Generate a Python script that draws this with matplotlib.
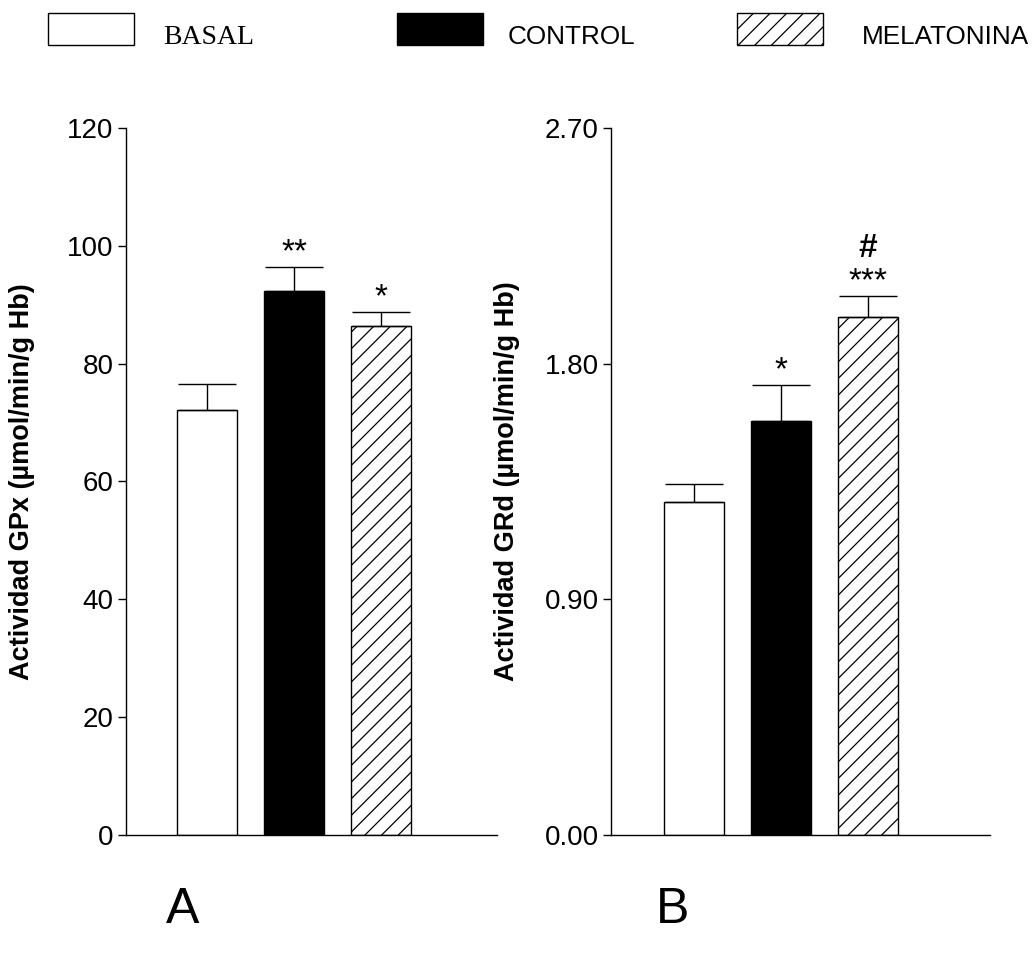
import numpy as np
import matplotlib.pyplot as plt
from matplotlib.patches import Rectangle

plt.rcParams['font.family'] = ['Liberation Sans', 'DejaVu Sans']
plt.rcParams['hatch.linewidth'] = 0.9

groups = ['BASAL', 'CONTROL', 'MELATONINA']

# panel A: GPx
gpx_mean = [72.1, 92.3, 86.4]
gpx_err = [4.5, 4.1, 2.4]
gpx_stars = ['', '**', '*']
gpx_ticks = [0, 20, 40, 60, 80, 100, 120]

# panel B: GRd
grd_mean = [1.27, 1.58, 1.98]
grd_err = [0.07, 0.14, 0.08]
grd_stars = ['', '*', '***']
grd_hash = ['', '', '#']
grd_ticks = [0.00, 0.90, 1.80, 2.70]

faces = ['white', 'black', 'white']
hatches = ['', '', '//']


def draw_panel(ax, means, errs, stars, ticks, fmt, ylabel, xlim):
    x = np.arange(len(means))
    yerr = [np.zeros(len(errs)), errs]
    ax.bar(x, means, width=0.69, color=faces, edgecolor='black', linewidth=1.0,
           hatch=hatches, yerr=yerr,
           error_kw=dict(ecolor='black', elinewidth=1.0, capsize=21, capthick=1.0))
    for xi, m, e, s in zip(x, means, errs, stars):
        if s:
            ax.annotate(s, (xi, m + e), xytext=(0, 4), textcoords='offset points',
                        ha='center', va='baseline', fontsize=24)
    ax.set_xlim(*xlim)
    ax.set_ylim(ticks[0], ticks[-1])
    ax.set_yticks(ticks)
    ax.set_yticklabels([fmt.format(t) for t in ticks], fontsize=20)
    ax.set_xticks([])
    ax.spines['top'].set_visible(False)
    ax.spines['right'].set_visible(False)
    ax.spines['left'].set_linewidth(1.0)
    ax.spines['bottom'].set_linewidth(1.0)
    ax.tick_params(axis='y', direction='out', length=6, width=1.0, pad=3)
    ax.set_ylabel(ylabel, fontsize=19.5, fontweight='bold')


fig = plt.figure(figsize=(10.32, 9.58), dpi=100)
axA = fig.add_axes([0.1221, 0.1284, 0.3595, 0.738])
axB = fig.add_axes([0.5921, 0.1284, 0.3672, 0.738])

draw_panel(axA, gpx_mean, gpx_err, gpx_stars, gpx_ticks, '{:.0f}',
           'Actividad GPx (µmol/min/g Hb)', (-0.931, 3.333))
draw_panel(axB, grd_mean, grd_err, grd_stars, grd_ticks, '{:.2f}',
           'Actividad GRd (µmol/min/g Hb)', (-0.954, 3.40))
axA.yaxis.set_label_coords(-0.245, 0.5)
axB.yaxis.set_label_coords(-0.240, 0.5)

for xi, m, e, h in zip(range(3), grd_mean, grd_err, grd_hash):
    if h:
        axB.annotate(h, (xi, m + e), xytext=(0, 28), textcoords='offset points',
                     ha='center', va='baseline', fontsize=24, fontweight='bold')

fig.text(0.161, 0.05, 'A', fontsize=36, ha='left', va='center')
fig.text(0.636, 0.05, 'B', fontsize=36, ha='left', va='center')

# legend row at the top
box_x = [48, 397, 737]
text_x = [163, 508, 862]
fonts = [['Liberation Serif'], ['Liberation Sans'], ['Liberation Sans']]
sizes = [20, 18.8, 18.8]
for bx, tx, fc, ht, name, fam, fs in zip(box_x, text_x, faces, hatches, groups,
                                         fonts, sizes):
    fig.add_artist(Rectangle((bx / 1032, 1 - 45 / 958), 86 / 1032, 32 / 958,
                             transform=fig.transFigure, facecolor=fc,
                             edgecolor='black', linewidth=1.0, hatch=ht))
    fig.text(tx / 1032, 1 - 44 / 958, name, fontsize=fs, family=fam,
             ha='left', va='baseline')

fig.savefig('out.png', dpi=100)
